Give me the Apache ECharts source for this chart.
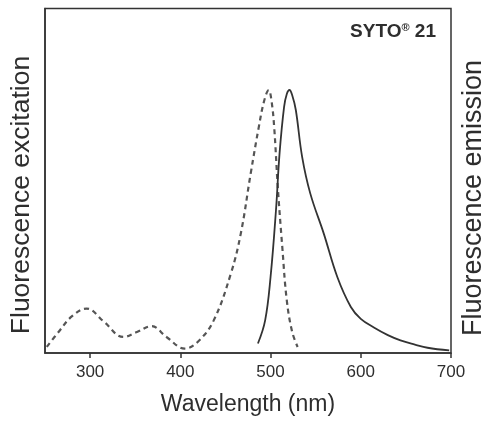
<!DOCTYPE html>
<html>
<head>
<meta charset="utf-8">
<script src="https://cdn.jsdelivr.net/npm/echarts@6/dist/echarts.min.js"></script>
<style>
html,body{margin:0;padding:0;background:#fff;}
#chart{width:487px;height:421px;}
</style>
</head>
<body>
<div id="chart"></div>
<script>
// Wavelength (nm) and normalized intensity (peak = 100)
var excitationWl = [252, 265, 280, 296, 315, 337, 352, 368, 385, 405, 420, 437, 456, 467, 478, 487, 493, 498, 501, 504, 508, 513, 518, 524, 530];
var excitationVal = [2.3, 8, 14, 16.9, 12, 6.1, 8, 10.2, 6, 1.7, 4.5, 12.4, 30.2, 45.4, 68.3, 86, 96, 100, 96, 86, 63.2, 40.3, 20, 8, 2.3];
var emissionWl = [486, 494, 500, 506, 510, 515, 518, 521, 524, 528, 535, 544, 559, 574, 589, 600, 615, 630, 644, 660, 674, 698];
var emissionVal = [3.6, 12.4, 28.9, 54.3, 76, 93.6, 98.5, 100, 98, 92.4, 74.6, 60.7, 45.4, 28.9, 17.5, 13, 9.6, 6.8, 4.8, 3.2, 2, 1];
var xTicks = [300, 400, 500, 600, 700];
var xMin = 250, xMax = 700;
var yMax = 131;
var titles = { x: 'Wavelength (nm)', yLeft: 'Fluorescence excitation', yRight: 'Fluorescence emission', dye: 'SYTO', dyeSup: '®', dyeNum: ' 21' };

function pairs(xs, ys) { return xs.map(function (x, i) { return [x, ys[i]]; }); }

var chart = echarts.init(document.getElementById('chart'), null, { renderer: 'canvas' });
var textColor = '#2e2e2e';
chart.setOption({
  animation: false,
  backgroundColor: '#ffffff',
  grid: { left: 45, right: 36, top: 8.5, bottom: 68, show: true, borderColor: '#333', borderWidth: 1.5, backgroundColor: 'transparent' },
  xAxis: {
    type: 'value', min: xMin, max: xMax,
    axisLine: { show: true, lineStyle: { color: '#333', width: 1.5 } },
    axisTick: { show: true, inside: false, length: 5, lineStyle: { color: '#333', width: 1.5 }, customValues: xTicks },
    axisLabel: { show: true, margin: 11, color: textColor, fontSize: 17, fontFamily: 'Liberation Sans, Arial, sans-serif', customValues: xTicks },
    splitLine: { show: false },
    name: titles.x, nameLocation: 'middle', nameGap: 40,
    nameTextStyle: { color: textColor, fontSize: 23, fontFamily: 'Liberation Sans, Arial, sans-serif' }
  },
  yAxis: {
    type: 'value', min: 0, max: yMax,
    axisLine: { show: true, lineStyle: { color: '#333', width: 1.5 } },
    axisTick: { show: false }, axisLabel: { show: false }, splitLine: { show: false }
  },
  series: [
    {
      type: 'line', name: 'Excitation', data: pairs(excitationWl, excitationVal),
      smooth: 0.4, symbol: 'none',
      lineStyle: { color: '#555', width: 2.2, type: [5, 4] }
    },
    {
      type: 'line', name: 'Emission', data: pairs(emissionWl, emissionVal),
      smooth: 0.4, symbol: 'none',
      lineStyle: { color: '#333', width: 1.8 }
    }
  ],
  graphic: [
    {
      type: 'text', x: 22, y: 195, rotation: Math.PI / 2,
      style: { text: titles.yLeft, textAlign: 'center', textVerticalAlign: 'middle', fill: textColor, fontSize: 26.5, fontFamily: 'Liberation Sans, Arial, sans-serif' }
    },
    {
      type: 'text', x: 474, y: 198, rotation: Math.PI / 2,
      style: { text: titles.yRight, textAlign: 'center', textVerticalAlign: 'middle', fill: textColor, fontSize: 27, fontFamily: 'Liberation Sans, Arial, sans-serif' }
    },
    {
      type: 'text', x: 436, y: 32,
      style: {
        text: '{a|' + titles.dye + '}{s|' + titles.dyeSup + '}{a|' + titles.dyeNum + '}',
        textAlign: 'right', textVerticalAlign: 'middle',
        rich: {
          a: { fontSize: 19, fontWeight: 'bold', fill: textColor, color: textColor, fontFamily: 'Liberation Sans, Arial, sans-serif' },
          s: { fontSize: 11, fontWeight: 'bold', fill: textColor, color: textColor, fontFamily: 'Liberation Sans, Arial, sans-serif', verticalAlign: 'top', padding: [0, 0, 8, 0] }
        }
      }
    }
  ]
});
</script>
</body>
</html>
